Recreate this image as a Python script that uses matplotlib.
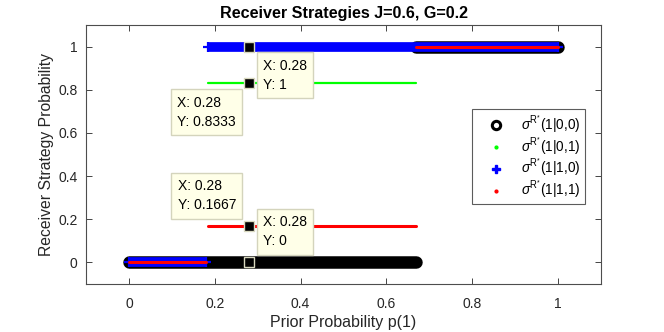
import numpy as np
import matplotlib
matplotlib.use("Agg")
import matplotlib.pyplot as plt
from matplotlib.lines import Line2D

plt.rcParams['font.family'] = ['Liberation Sans', 'DejaVu Sans']
plt.rcParams['mathtext.fontset'] = 'custom'
plt.rcParams['mathtext.rm'] = 'Liberation Sans'
plt.rcParams['mathtext.it'] = 'Liberation Sans:italic'

# Data: segments (start p, end p, value) for each receiver strategy
s00_start = [0.0, 0.67]
s00_end = [0.67, 1.0]
s00_val = [0.0, 1.0]

s01_start = [0.0, 0.185, 0.67]
s01_end = [0.18, 0.67, 1.0]
s01_val = [0.0, 0.8333, 1.0]

s10_start = [0.0, 0.185]
s10_end = [0.18, 1.0]
s10_val = [0.0, 1.0]

s11_start = [0.0, 0.185, 0.67]
s11_end = [0.18, 0.67, 1.0]
s11_val = [0.0, 0.1667, 1.0]

tip_x = [0.28, 0.28, 0.28, 0.28]
tip_y = [1.0, 0.8333, 0.1667, 0.0]
tip_labels = ["X: 0.28\nY: 1", "X: 0.28\nY: 0.8333", "X: 0.28\nY: 0.1667", "X: 0.28\nY: 0"]

legend_labels = [r'$\sigma^{\mathregular{R^{*}}}$(1|0,0)',
                 r'$\sigma^{\mathregular{R^{*}}}$(1|0,1)',
                 r'$\sigma^{\mathregular{R^{*}}}$(1|1,0)',
                 r'$\sigma^{\mathregular{R^{*}}}$(1|1,1)']

fig = plt.figure(figsize=(6.64, 3.32), dpi=100)
ax = fig.add_axes([86/664, 1-284/332, (601-86)/664, (284-25)/332])

def draw(starts, ends, vals, **kw):
    for a, b, v in zip(starts, ends, vals):
        ax.plot([a, b], [v, v], **kw)

draw(s00_start, s00_end, s00_val, color='black', lw=9.0, solid_capstyle='round', zorder=2)
draw(s01_start, s01_end, s01_val, color='#00ff00', lw=1.6, solid_capstyle='round', zorder=3)
draw(s10_start, s10_end, s10_val, color='#0000ff', lw=7.0, solid_capstyle='butt',
     marker='+', ms=7, mew=1.6, zorder=4)
draw(s11_start, s11_end, s11_val, color='#ff0000', lw=2.2, solid_capstyle='round', zorder=5)

# data tips
ax.plot(tip_x, tip_y, linestyle='none', marker='s', ms=7.5, mfc='black',
        mec='#d9d9bf', mew=1.0, zorder=6)
tip_fs = 10
offsets = [(14, -12, 'left', 'top'), (-13, -13, 'right', 'top'),
           (-13, 14, 'right', 'bottom'), (14, 14, 'left', 'bottom')]
for x, y, lab, (dx, dy, ha, va) in zip(tip_x, tip_y, tip_labels, offsets):
    ax.annotate(lab, xy=(x, y), xytext=(dx, dy), textcoords='offset pixels',
                ha=ha, va=va, multialignment='left', fontsize=tip_fs, color='black',
                linespacing=1.45,
                bbox=dict(boxstyle='square,pad=0.45', fc='#ffffe8', ec='#d4d4bc', lw=1.0),
                zorder=7)

ax.set_xlim(-0.1, 1.1)
ax.set_ylim(-0.1, 1.1)
ax.set_xticks([0, 0.2, 0.4, 0.6, 0.8, 1])
ax.set_xticklabels(['0', '0.2', '0.4', '0.6', '0.8', '1'])
ax.set_yticks([0, 0.2, 0.4, 0.6, 0.8, 1])
ax.set_yticklabels(['0', '0.2', '0.4', '0.6', '0.8', '1'])
ax.tick_params(direction='in', top=True, right=True, length=4, width=0.6,
               colors='#262626', labelsize=10, labelcolor='#262626')
ax.tick_params(axis='x', pad=9)
ax.tick_params(axis='y', pad=6)
for s in ax.spines.values():
    s.set_color('#4d4d4d')
    s.set_linewidth(0.8)

ax.set_xlabel('Prior Probability p(1)', fontsize=11.5, color='#262626', labelpad=3)
ax.set_ylabel('Receiver Strategy Probability', fontsize=11.3, color='#262626', labelpad=3)
ax.set_title('Receiver Strategies J=0.6, G=0.2', fontsize=11.6, fontweight='bold', color='black', pad=5)

handles = [
    Line2D([], [], linestyle='none', marker='o', ms=6, mfc='none', mec='black', mew=2.2),
    Line2D([], [], linestyle='none', marker='.', ms=4, color='#00ff00'),
    Line2D([], [], linestyle='none', marker='P', ms=6, color='#0000ff'),
    Line2D([], [], linestyle='none', marker='.', ms=4, color='#ff0000'),
]
leg = ax.legend(handles, legend_labels, loc='upper left',
                bbox_to_anchor=(472/664, 1-109/332), bbox_transform=fig.transFigure,
                fontsize=9.8, frameon=True, fancybox=False, borderaxespad=0,
                handlelength=2.9, handletextpad=0.4, labelspacing=0.02, borderpad=0.3)
leg.get_frame().set_edgecolor('#333333')
leg.get_frame().set_linewidth(0.8)

fig.savefig('out.png', dpi=100)
